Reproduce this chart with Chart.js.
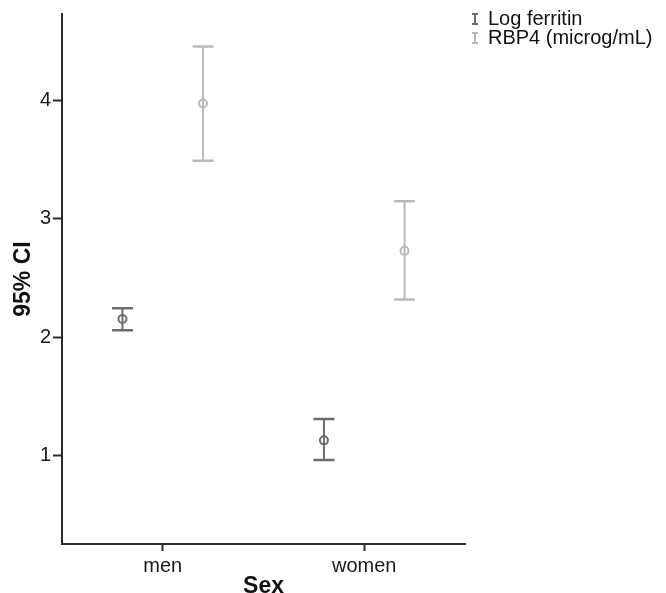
<!DOCTYPE html>
<html>
<head>
<meta charset="utf-8">
<script src="https://cdn.jsdelivr.net/npm/chart.js@4.4.1/dist/chart.umd.min.js"></script>
<style>
  body { margin: 0; background: #fff; font-family: "Liberation Sans", Arial, sans-serif; }
  #wrap { position: relative; width: 666px; height: 593px; overflow: hidden; }
  #leyenda { position: absolute; left: 472px; top: 9px; font-size: 20px; color: #111; line-height: 19px; }
  .fila { display: flex; align-items: center; white-space: nowrap; }
  .ico { width: 6px; height: 12px; margin-right: 10px; position: relative; }
  .ico::before, .ico::after { content: ''; position: absolute; left: 0; width: 6px; height: 2px; background: currentColor; }
  .ico::before { top: 0; } .ico::after { bottom: 0; }
  .ico span { position: absolute; left: 2.25px; top: 0; width: 1.5px; height: 12px; background: currentColor; }
</style>
</head>
<body>
<div id="wrap">
  <canvas id="grafico" width="666" height="593"></canvas>
  <div id="leyenda"></div>
</div>
<script>
// Datos
const categorias = ['men', 'women'];
const series = ['Log ferritin', 'RBP4 (microg/mL)'];
const colores = ['#6c6c70', '#b9b9bc'];
const desplaz = [-0.2, 0.2];
const medias = [[2.155, 1.13], [3.975, 2.73]];
const inferior = [[2.06, 0.965], [3.49, 2.32]];
const superior = [[2.245, 1.31], [4.455, 3.148]];
const ticksY = [1, 2, 3, 4];

const datasets = series.map((nombre, s) => ({
    label: nombre,
    data: categorias.map((c, i) => ({ x: i + desplaz[s], y: medias[s][i] })),
    borderColor: colores[s],
    backgroundColor: 'rgba(255,255,255,0)',
    pointRadius: 4,
    pointBorderWidth: 2,
    showLine: false
}));

// Barras de error dibujadas con las escalas del gráfico
const barrasError = {
    id: 'barrasError',
    beforeDatasetsDraw(chart) {
        const ctx = chart.ctx, sx = chart.scales.x, sy = chart.scales.y;
        ctx.save();
        series.forEach((n, s) => {
            ctx.strokeStyle = colores[s];
            categorias.forEach((c, i) => {
                const x = sx.getPixelForValue(i + desplaz[s]);
                const y1 = sy.getPixelForValue(superior[s][i]);
                const y0 = sy.getPixelForValue(inferior[s][i]);
                ctx.lineWidth = 2;
                ctx.beginPath(); ctx.moveTo(x, y1); ctx.lineTo(x, y0); ctx.stroke();
                ctx.lineWidth = 2.5;
                ctx.beginPath();
                ctx.moveTo(x - 10.5, y1); ctx.lineTo(x + 10.5, y1);
                ctx.moveTo(x - 10.5, y0); ctx.lineTo(x + 10.5, y0);
                ctx.stroke();
            });
        });
        ctx.restore();
    }
};

const ejeColor = '#2b2b2b';
const fuente = '"Liberation Sans", Arial';
new Chart(document.getElementById('grafico'), {
    type: 'scatter',
    data: { datasets },
    plugins: [barrasError],
    options: {
        responsive: false,
        animation: false,
        layout: { padding: { top: 10, right: 201, left: 0, bottom: 0 } },
        plugins: { legend: { display: false }, tooltip: { enabled: false } },
        scales: {
            x: {
                type: 'linear', min: -0.5, max: 1.5,
                afterBuildTicks: ax => { ax.ticks = categorias.map((c, i) => ({ value: i })); },
                afterFit: ax => { ax.height = 49; },
                ticks: { callback: v => categorias[v], color: '#1a1a1a', font: { size: 20, family: fuente }, padding: 3 },
                grid: { drawOnChartArea: false, tickLength: 7, tickWidth: 2, color: ejeColor },
                border: { color: ejeColor, width: 2 },
                title: { display: true, text: 'Sex', color: '#111', font: { size: 23, weight: 'bold', family: fuente }, padding: { top: 0, bottom: -7 } }
            },
            y: {
                min: 0.255, max: 4.73,
                afterBuildTicks: ax => { ax.ticks = ticksY.map(v => ({ value: v })); },
                afterFit: ax => { ax.width = 62; },
                ticks: { color: '#1a1a1a', font: { size: 20, family: fuente }, padding: 2 },
                grid: { drawOnChartArea: false, tickLength: 9, tickWidth: 2, color: ejeColor },
                border: { color: ejeColor, width: 2 },
                title: { display: true, text: '95% CI', color: '#111', font: { size: 23, weight: 'bold', family: fuente }, padding: { top: 10, bottom: 0 } }
            }
        }
    }
});

// Leyenda en HTML
const ley = document.getElementById('leyenda');
series.forEach((n, s) => {
    const f = document.createElement('div');
    f.className = 'fila';
    f.innerHTML = `<div class="ico" style="color:${colores[s]}"><span></span></div><div>${n}</div>`;
    ley.appendChild(f);
});
</script>
</body>
</html>
